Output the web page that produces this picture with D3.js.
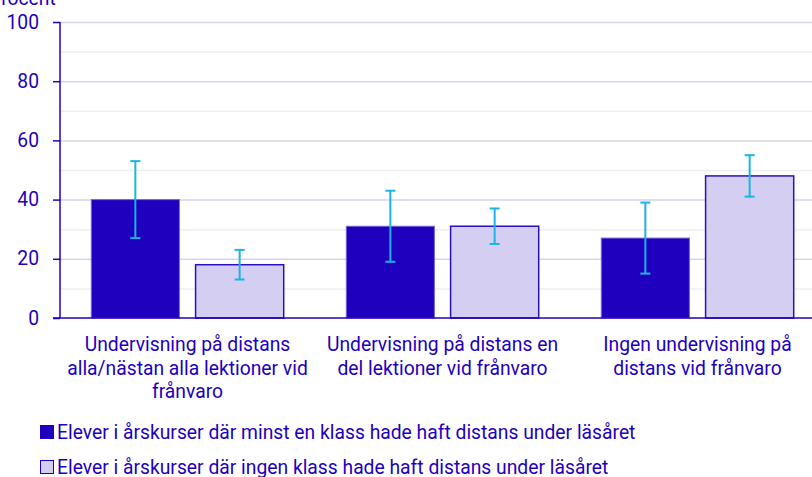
<!DOCTYPE html>
<html>
<head>
<meta charset="utf-8">
<script src="https://cdn.jsdelivr.net/npm/d3@7"></script>
<style>
  body { margin: 0; background: #fff; }
  svg text { font-family: Roboto, "Noto Sans", sans-serif; }
</style>
</head>
<body>
<div id="chart"></div>
<script>
var categories = [
    ['Undervisning på distans', 'alla/nästan alla lektioner vid', 'frånvaro'],
    ['Undervisning på distans en', 'del lektioner vid frånvaro'],
    ['Ingen undervisning på', 'distans vid frånvaro']
];
var seriesNames = [
    'Elever i årskurser där minst en klass hade haft distans under läsåret',
    'Elever i årskurser där ingen klass hade haft distans under läsåret'
];
var valuesMinst = [40, 31, 27];
var lowMinst = [27, 19, 15];
var highMinst = [53, 43, 39];
var valuesIngen = [18, 31, 48];
var lowIngen = [13, 25, 41];
var highIngen = [23, 37, 55];
var yTicks = [0, 20, 40, 60, 80, 100];
var yMinor = [10, 30, 50, 70, 90];

var textColor = '#1e00be';
var darkColor = '#1e00be';
var lightColor = '#d3cef2';
var errColor = '#1ab4e6';
var fontSize = '19.3px';

var width = 812, height = 477;
var margin = {top: 22, right: 0, bottom: 159, left: 60};

var svg = d3.select('#chart').append('svg')
    .attr('width', width)
    .attr('height', height);

var y = d3.scaleLinear()
    .domain([0, 100])
    .range([height - margin.bottom, margin.top]);

// groups run a little past the right edge, as in the original
var x0 = d3.scaleBand()
    .domain(d3.range(categories.length))
    .range([margin.left, 825]);

var x1 = d3.scaleBand()
    .domain([0, 1])
    .range([0, x0.bandwidth()])
    .paddingInner(0.155)
    .paddingOuter(0.3);

// minor gridlines
svg.append('g').selectAll('line')
    .data(yMinor)
    .join('line')
    .attr('x1', margin.left)
    .attr('x2', width)
    .attr('y1', d => y(d) + 0.5)
    .attr('y2', d => y(d) + 0.5)
    .attr('stroke', '#efefef')
    .attr('stroke-width', 1.5);

// major gridlines
svg.append('g').selectAll('line')
    .data(yTicks.filter(d => d > 0))
    .join('line')
    .attr('x1', margin.left)
    .attr('x2', width)
    .attr('y1', d => y(d) + 0.5)
    .attr('y2', d => y(d) + 0.5)
    .attr('stroke', '#d6d3ec')
    .attr('stroke-width', 1.5);

// y axis
var yAxis = svg.append('g')
    .attr('transform', `translate(${margin.left},0)`)
    .call(d3.axisLeft(y).tickValues(yTicks).tickSize(7).tickPadding(14));
yAxis.select('.domain').remove();
yAxis.selectAll('.tick line').attr('stroke', textColor).attr('stroke-width', 1.5);
yAxis.selectAll('.tick text')
    .attr('fill', textColor)
    .attr('font-size', fontSize)
    .attr('font-family', 'Roboto, sans-serif');
svg.append('line')
    .attr('x1', margin.left).attr('x2', margin.left)
    .attr('y1', y(100)).attr('y2', y(0))
    .attr('stroke', textColor).attr('stroke-width', 1.5);

svg.append('text')
    .attr('x', -11)
    .attr('y', 5)
    .attr('fill', textColor)
    .attr('font-size', fontSize)
    .text('Procent');

var groups = svg.append('g').selectAll('g')
    .data(categories.map((c, i) => i))
    .join('g')
    .attr('transform', i => `translate(${x0(i)},0)`);

var series = [
    {vals: valuesMinst, low: lowMinst, high: highMinst, fill: darkColor, stroke: '#7a66d6'},
    {vals: valuesIngen, low: lowIngen, high: highIngen, fill: lightColor, stroke: '#2a10c0'}
];

series.forEach(function(s, k) {
    groups.append('rect')
        .attr('x', x1(k))
        .attr('y', i => y(s.vals[i]))
        .attr('width', x1.bandwidth())
        .attr('height', i => y(0) - y(s.vals[i]))
        .attr('fill', s.fill)
        .attr('stroke', s.stroke)
        .attr('stroke-width', k === 0 ? 1 : 1.5);
});

// x axis line
svg.append('line')
    .attr('x1', margin.left - 7).attr('x2', width)
    .attr('y1', y(0)).attr('y2', y(0))
    .attr('stroke', textColor).attr('stroke-width', 1.5);

// error bars
series.forEach(function(s, k) {
    var cx = x1(k) + x1.bandwidth() / 2;
    var eb = groups.append('g').attr('stroke', errColor).attr('stroke-width', 2);
    eb.append('line')
        .attr('x1', cx).attr('x2', cx)
        .attr('y1', i => y(s.low[i])).attr('y2', i => y(s.high[i]));
    eb.append('line')
        .attr('x1', cx - 5).attr('x2', cx + 5)
        .attr('y1', i => y(s.low[i])).attr('y2', i => y(s.low[i]));
    eb.append('line')
        .attr('x1', cx - 5).attr('x2', cx + 5)
        .attr('y1', i => y(s.high[i])).attr('y2', i => y(s.high[i]));
});

// category labels
groups.append('text')
    .attr('text-anchor', 'middle')
    .attr('fill', textColor)
    .attr('font-size', fontSize)
    .attr('x', x0.bandwidth() / 2)
    .attr('y', y(0) + 33)
    .each(function(i) {
        var t = d3.select(this);
        categories[i].forEach(function(line, j) {
            t.append('tspan')
                .attr('x', x0.bandwidth() / 2)
                .attr('dy', j === 0 ? 0 : 23.5)
                .text(line);
        });
    });

// legend
var legend = svg.append('g').selectAll('g')
    .data(seriesNames)
    .join('g')
    .attr('transform', (d, i) => `translate(40,${425 + i * 35})`);
legend.append('rect')
    .attr('x', 0.5).attr('y', 0.5)
    .attr('width', 13).attr('height', 13)
    .attr('fill', (d, i) => series[i].fill)
    .attr('stroke', darkColor)
    .attr('stroke-width', 1);
legend.append('text')
    .attr('x', 17)
    .attr('y', 13.5)
    .attr('fill', textColor)
    .attr('font-size', fontSize)
    .text(d => d);
</script>
</body>
</html>
